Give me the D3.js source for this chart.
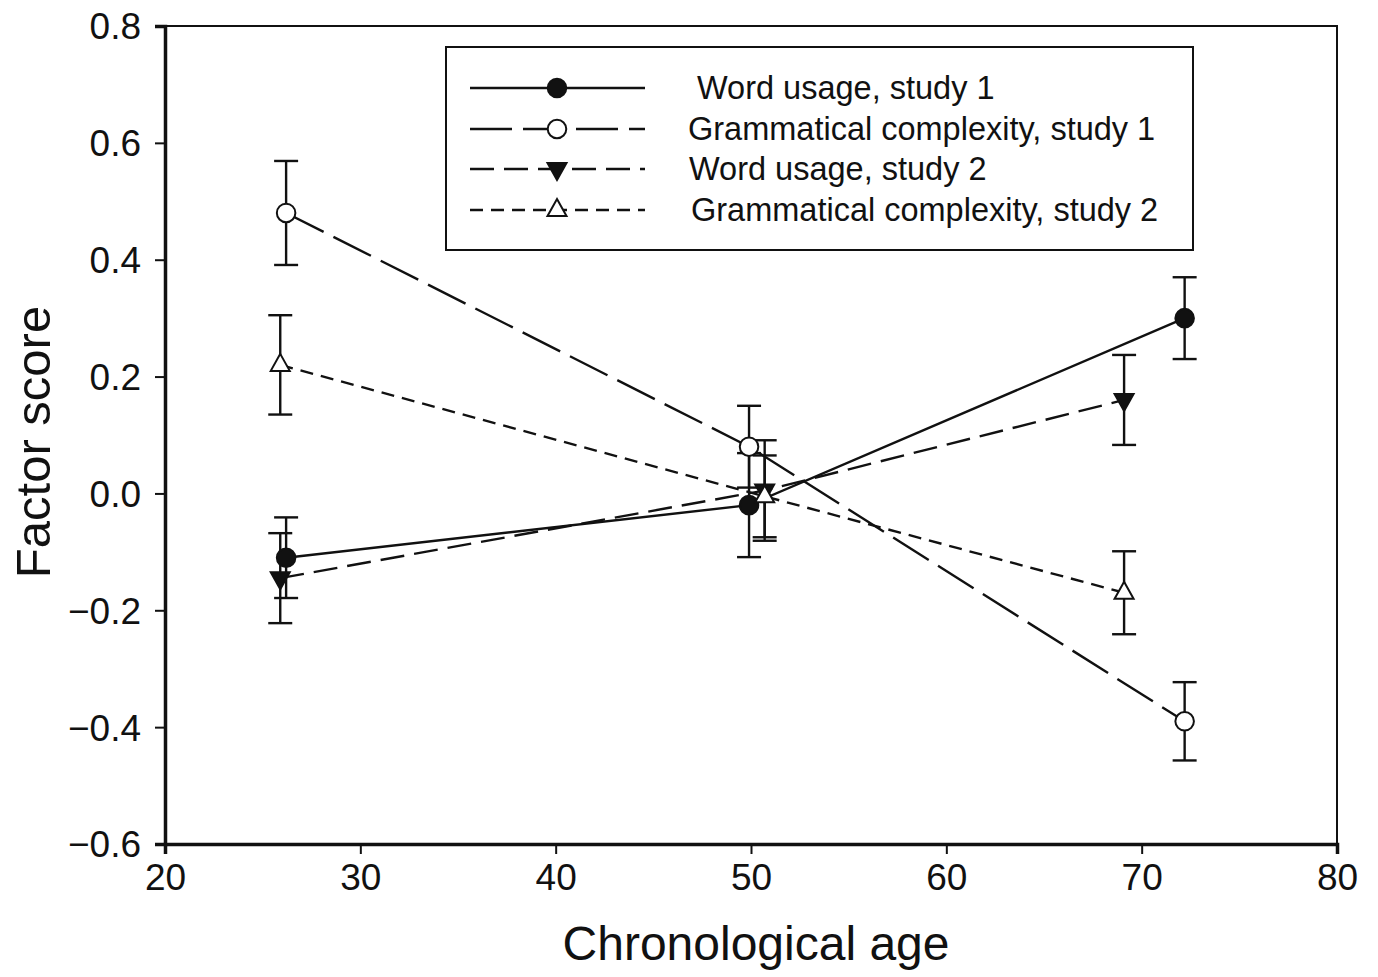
<html>
<head>
<meta charset="utf-8">
<script src="https://cdnjs.cloudflare.com/ajax/libs/d3/7.8.5/d3.min.js"></script>
<style>
  body { margin: 0; background: #fff; }
  text { font-family: "Liberation Sans", Arial, sans-serif; fill: #111; }
</style>
</head>
<body>
<svg id="chart" width="1378" height="977"></svg>
<script>
// data
const seriesNames = ["Word usage, study 1", "Grammatical complexity, study 1",
                     "Word usage, study 2", "Grammatical complexity, study 2"];
const ageStudy1 = [26.2, 49.9, 72.2];
const ageStudy2 = [25.9, 50.7, 69.1];
const wordUsage1 = [-0.11, -0.02, 0.30];
const wordUsage1Err = [0.069, 0.089, 0.070];
const gramComp1 = [0.48, 0.08, -0.39];
const gramComp1Err = [0.089, 0.07, 0.067];
const wordUsage2 = [-0.145, 0.005, 0.16];
const wordUsage2Err = [0.077, 0.086, 0.077];
const gramComp2 = [0.22, -0.005, -0.17];
const gramComp2Err = [0.085, 0.07, 0.071];
const xTicks = [20, 30, 40, 50, 60, 70, 80];
const yTicks = [-0.6, -0.4, -0.2, 0.0, 0.2, 0.4, 0.6, 0.8];

const series = [
  {name: seriesNames[0], x: ageStudy1, y: wordUsage1, e: wordUsage1Err, marker: "circle", fill: "#111", dash: null},
  {name: seriesNames[1], x: ageStudy1, y: gramComp1, e: gramComp1Err, marker: "circle", fill: "#fff", dash: "42,11"},
  {name: seriesNames[2], x: ageStudy2, y: wordUsage2, e: wordUsage2Err, marker: "down", fill: "#111", dash: "24,10"},
  {name: seriesNames[3], x: ageStudy2, y: gramComp2, e: gramComp2Err, marker: "up", fill: "#fff", dash: "13,8"}
];

const svg = d3.select("#chart");
const mLeft = 165, mRight = 1337, mTop = 26, mBottom = 844;

const x = d3.scaleLinear().domain([20, 80]).range([mLeft, mRight]);
const y = d3.scaleLinear().domain([-0.6, 0.8]).range([mBottom, mTop]);

// frame
svg.append("rect")
  .attr("x", mLeft).attr("y", mTop)
  .attr("width", mRight - mLeft).attr("height", mBottom - mTop)
  .attr("fill", "none").attr("stroke", "#111").attr("stroke-width", 2);

// axes
const yAxis = svg.append("g")
  .attr("transform", `translate(${mLeft},0)`)
  .call(d3.axisLeft(y).tickValues(yTicks).tickSize(10).tickPadding(14)
    .tickFormat(d => d3.format(".1f")(d).replace("-", "\u2212")));
const xAxis = svg.append("g")
  .attr("transform", `translate(0,${mBottom})`)
  .call(d3.axisBottom(x).tickValues(xTicks).tickSize(10).tickPadding(10)
    .tickFormat(d3.format("d")));

[yAxis, xAxis].forEach(g => {
  g.select(".domain").attr("stroke", "#111").attr("stroke-width", 3.5);
  g.selectAll(".tick line").attr("stroke", "#111").attr("stroke-width", 2);
  g.selectAll(".tick text").attr("font-size", 37).attr("fill", "#111")
    .attr("font-family", "'Liberation Sans', Arial, sans-serif");
});
yAxis.selectAll(".tick text").attr("dy", "0.35em");

// axis titles
svg.append("text")
  .attr("x", 756).attr("y", 960)
  .attr("text-anchor", "middle").attr("font-size", 48)
  .text("Chronological age");
svg.append("text")
  .attr("transform", "translate(50,442) rotate(-90)")
  .attr("text-anchor", "middle").attr("font-size", 49)
  .text("Factor score");

// marker shapes
function markerPath(type) {
  if (type === "up") return "M0,-11L9.5,6L-9.5,6Z";
  if (type === "down") return "M0,11L9.5,-6L-9.5,-6Z";
  return d3.symbol(d3.symbolCircle, 270)();
}

const plot = svg.append("g");

// lines
const line = d3.line().x(d => x(d[0])).y(d => y(d[1]));
series.forEach(s => {
  plot.append("path")
    .attr("d", line(s.x.map((v, i) => [v, s.y[i]])))
    .attr("fill", "none").attr("stroke", "#111").attr("stroke-width", 2.4)
    .attr("stroke-dasharray", s.dash);
});

// error bars
series.forEach(s => {
  s.x.forEach((v, i) => {
    const cx = x(v), y0 = y(s.y[i] + s.e[i]), y1 = y(s.y[i] - s.e[i]);
    plot.append("line").attr("x1", cx).attr("x2", cx).attr("y1", y0).attr("y2", y1)
      .attr("stroke", "#111").attr("stroke-width", 2.4);
    [y0, y1].forEach(yy => plot.append("line")
      .attr("x1", cx - 12).attr("x2", cx + 12).attr("y1", yy).attr("y2", yy)
      .attr("stroke", "#111").attr("stroke-width", 2.4));
  });
});

// markers
series.forEach(s => {
  s.x.forEach((v, i) => {
    plot.append("path")
      .attr("d", markerPath(s.marker))
      .attr("transform", `translate(${x(v)},${y(s.y[i])})`)
      .attr("fill", s.fill).attr("stroke", "#111").attr("stroke-width", 2);
  });
});

// legend
const legend = svg.append("g");
legend.append("rect")
  .attr("x", 446).attr("y", 47).attr("width", 747).attr("height", 203)
  .attr("fill", "#fff").attr("stroke", "#111").attr("stroke-width", 2);
const rowY = [88, 129, 169, 210];
const textX = [697, 688, 689, 691];
series.forEach((s, i) => {
  legend.append("line")
    .attr("x1", 470).attr("x2", 645).attr("y1", rowY[i]).attr("y2", rowY[i])
    .attr("stroke", "#111").attr("stroke-width", 2.4)
    .attr("stroke-dasharray", s.dash);
  legend.append("path")
    .attr("d", markerPath(s.marker))
    .attr("transform", `translate(557,${rowY[i]})`)
    .attr("fill", s.fill).attr("stroke", "#111").attr("stroke-width", 2);
  legend.append("text")
    .attr("x", textX[i]).attr("y", rowY[i] + 11)
    .attr("font-size", 32.5)
    .text(s.name);
});
</script>
</body>
</html>
